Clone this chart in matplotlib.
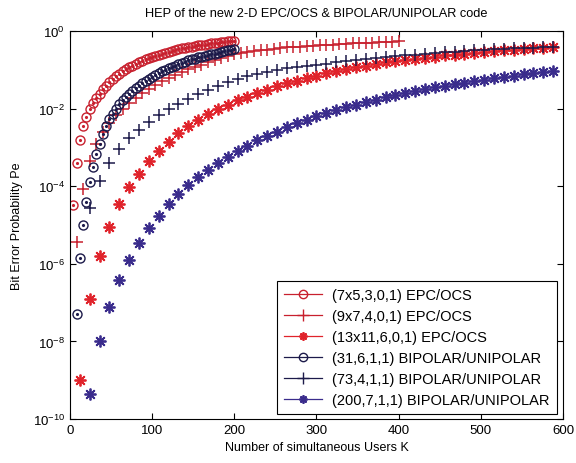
"""
Bit error probability vs number of simultaneous users (semilog plot),
2-D EPC/OCS codes against BIPOLAR/UNIPOLAR codes.
"""

import matplotlib
matplotlib.use('Agg')
import matplotlib.pyplot as plt
from matplotlib.lines import Line2D
import numpy as np

plt.rcParams['font.family'] = ['Liberation Sans', 'DejaVu Sans']
plt.rcParams['mathtext.fontset'] = 'custom'
plt.rcParams['mathtext.rm'] = 'Liberation Sans'
plt.rcParams['mathtext.it'] = 'Liberation Sans'

# ---- data ----
labels = ['(7x5,3,0,1) EPC/OCS', '(9x7,4,0,1) EPC/OCS', '(13x11,6,0,1) EPC/OCS',
          '(31,6,1,1) BIPOLAR/UNIPOLAR', '(73,4,1,1) BIPOLAR/UNIPOLAR',
          '(200,7,1,1) BIPOLAR/UNIPOLAR']

k_7x5 = np.arange(4, 201, 4)
pe_7x5 = [3.2e-5, 4.0e-4, 1.51e-3, 3.47e-3, 6.17e-3, 9.55e-3, 0.0138, 0.0186,
          0.0245, 0.0316, 0.0389, 0.0479, 0.0575, 0.0676, 0.0794, 0.0912,
          0.102, 0.115, 0.129, 0.141, 0.158, 0.170, 0.186, 0.200, 0.214,
          0.229, 0.245, 0.263, 0.275, 0.295, 0.309, 0.324, 0.339, 0.355,
          0.372, 0.380, 0.398, 0.407, 0.427, 0.437, 0.447, 0.468, 0.479,
          0.490, 0.501, 0.513, 0.525, 0.537, 0.550, 0.562]

k_9x7 = np.arange(8, 401, 8)
pe_9x7 = [3.6e-6, 8.5e-5, 4.47e-4, 1.26e-3, 2.51e-3, 4.27e-3, 6.76e-3, 0.0100,
          0.0141, 0.0191, 0.0251, 0.0324, 0.0407, 0.0501, 0.0617, 0.0741,
          0.0871, 0.102, 0.117, 0.135, 0.155, 0.182, 0.204, 0.224, 0.251,
          0.269, 0.288, 0.302, 0.316, 0.331, 0.347, 0.363, 0.380, 0.389,
          0.398, 0.407, 0.417, 0.427, 0.437, 0.447, 0.457, 0.468, 0.479,
          0.490, 0.501, 0.501, 0.513, 0.525, 0.525, 0.537]

k_13x11 = np.arange(12, 589, 12)
pe_13x11 = [1.0e-9, 1.26e-7, 1.58e-6, 8.9e-6, 3.39e-5, 9.3e-5, 2.09e-4, 4.47e-4,
            8.3e-4, 1.41e-3, 2.29e-3, 3.55e-3, 5.13e-3, 7.08e-3, 9.55e-3,
            0.0126, 0.0162, 0.0204, 0.0251, 0.0309, 0.0372, 0.0447, 0.0525,
            0.0617, 0.0708, 0.0813, 0.0933, 0.105, 0.115, 0.129, 0.141, 0.155,
            0.166, 0.178, 0.191, 0.204, 0.219, 0.234, 0.245, 0.263, 0.275,
            0.288, 0.302, 0.316, 0.331, 0.347, 0.355, 0.372, 0.380]

k_31 = np.arange(8, 201, 4)
pe_31 = [5.0e-8, 1.41e-6, 1.0e-5, 3.98e-5, 1.26e-4, 3.16e-4, 6.76e-4, 1.26e-3,
         2.24e-3, 3.55e-3, 5.25e-3, 7.41e-3, 0.0100, 0.0132, 0.0166, 0.0204,
         0.0234, 0.0282, 0.0331, 0.0389, 0.0447, 0.0513, 0.0589, 0.0661,
         0.0741, 0.0832, 0.0912, 0.100, 0.110, 0.120, 0.129, 0.141, 0.151,
         0.162, 0.174, 0.186, 0.195, 0.209, 0.219, 0.229, 0.240, 0.251,
         0.263, 0.275, 0.288, 0.302, 0.316, 0.331, 0.347]

k_73 = np.arange(24, 589, 12)
pe_73 = [2.82e-5, 1.35e-4, 3.98e-4, 8.9e-4, 1.70e-3, 2.88e-3, 4.57e-3, 6.92e-3,
         0.0100, 0.0135, 0.0182, 0.0240, 0.0309, 0.0389, 0.0479, 0.0575,
         0.0676, 0.0776, 0.0891, 0.100, 0.110, 0.117, 0.126, 0.135, 0.145,
         0.155, 0.166, 0.178, 0.191, 0.204, 0.214, 0.224, 0.234, 0.245,
         0.257, 0.269, 0.282, 0.288, 0.302, 0.316, 0.324, 0.339, 0.347,
         0.355, 0.363, 0.372, 0.380, 0.389]

k_200 = np.arange(24, 589, 12)
pe_200 = [4.4e-10, 1.0e-8, 7.9e-8, 3.8e-7, 1.26e-6, 3.47e-6, 8.3e-6, 1.74e-5,
          3.39e-5, 6.17e-5, 1.05e-4, 1.70e-4, 2.63e-4, 3.98e-4, 5.75e-4,
          8.13e-4, 1.12e-3, 1.51e-3, 2.0e-3, 2.57e-3, 3.31e-3, 4.17e-3,
          5.13e-3, 6.31e-3, 7.59e-3, 9.12e-3, 0.0107, 0.0126, 0.0148, 0.0170,
          0.0195, 0.0224, 0.0251, 0.0282, 0.0316, 0.0355, 0.0389, 0.0427,
          0.0468, 0.0513, 0.0562, 0.0603, 0.0661, 0.0708, 0.0759, 0.0813,
          0.0871, 0.0933]

# ---- styles ----
red_dark = '#c8202e'
red = '#e0232b'
navy = '#1c1a4a'
purple = '#3a2c8c'
asterisk = (8, 2, 0)

fig = plt.figure(figsize=(5.76, 4.64), dpi=100)
ax = fig.add_axes([0.1215, 0.0948, 0.8559, 0.8362])

# red circles with small centre dot
ax.semilogy(k_7x5, pe_7x5, ls='none', marker='o', ms=6.5, mfc='none',
            mec=red_dark, mew=1.0)
ax.semilogy(k_7x5, pe_7x5, ls='none', marker='.', ms=2.5, color=red_dark)
ax.semilogy(k_9x7, pe_9x7, ls='none', marker='+', ms=8, mec=red_dark, mew=1.1)
ax.semilogy(k_13x11, pe_13x11, ls='none', marker=asterisk, ms=8.5, mec=red,
            mew=1.3)
ax.semilogy(k_31, pe_31, ls='none', marker='o', ms=6.5, mfc='none', mec=navy,
            mew=1.0)
ax.semilogy(k_31, pe_31, ls='none', marker='.', ms=2.5, color=navy)
ax.semilogy(k_73, pe_73, ls='none', marker='+', ms=8, mec=navy, mew=1.1)
ax.semilogy(k_200, pe_200, ls='none', marker=asterisk, ms=8.5, mec=purple,
            mew=1.3)

ax.set_xlim(0, 600)
ax.set_ylim(1e-10, 1)
ax.set_xticks(np.arange(0, 601, 100))
ax.set_yticks([1e-10, 1e-8, 1e-6, 1e-4, 1e-2, 1])
ax.minorticks_off()
ax.tick_params(direction='in', top=True, right=True, labelsize=9.5,
               length=4, width=0.8)
for s in ax.spines.values():
    s.set_linewidth(0.8)

ax.set_title('HEP of the new 2-D EPC/OCS & BIPOLAR/UNIPOLAR code',
             fontsize=9.2, pad=11)
ax.set_xlabel('Number of simultaneous Users K', fontsize=9, labelpad=4)
ax.set_ylabel('Bit Error Probability Pe', fontsize=9, labelpad=7)

# legend: lines with markers, like the reference
handles = [
    Line2D([], [], color=red_dark, marker='o', mfc='none', ms=6, lw=0.9),
    Line2D([], [], color=red_dark, marker='+', ms=8, lw=0.9),
    Line2D([], [], color=red, marker=asterisk, ms=6, mew=1.3, lw=0.9),
    Line2D([], [], color=navy, marker='o', mfc='none', ms=6, lw=0.9),
    Line2D([], [], color=navy, marker='+', ms=8, lw=0.9),
    Line2D([], [], color=purple, marker=asterisk, ms=6, mew=1.3, lw=0.9),
]
leg = ax.legend(handles, labels, loc='lower right',
                bbox_to_anchor=(0.988, 0.013), borderaxespad=0,
                fontsize=10.5, handlelength=2.6, labelspacing=0.47,
                handletextpad=0.7, fancybox=False, framealpha=1,
                edgecolor='black', borderpad=0.5)
leg.get_frame().set_linewidth(0.8)

fig.savefig('out.png', dpi=100)
